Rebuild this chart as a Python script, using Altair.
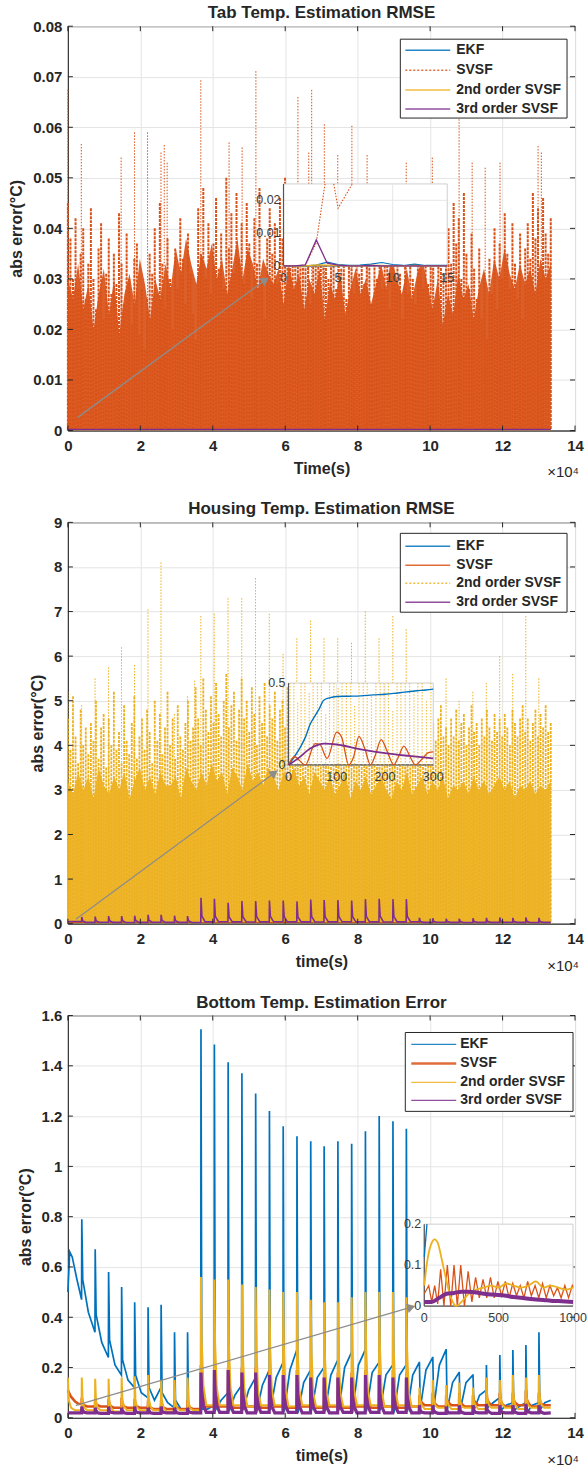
import math
import altair as alt
import pandas as pd

# ---------------------------------------------------------------- style
BLUE, ORANGE, YELLOW, PURPLE = "#0072BD", "#D95319", "#EDB120", "#7E2F8E"
INK = "#262626"
GRID = "#e4e4e4"
ARROW_C = "#8c8c8c"
FONT = "Liberation Sans"
W = 508
H1, H2, H3 = 405, 402, 403
T_END = 133300.0
X_TICKS = [0, 20000, 40000, 60000, 80000, 100000, 120000, 140000]

# ================================================================ DATA
# ---------- Panel 1: Tab temperature (SVSF dense error, milli-degC)
tab_fringe_mC = [
    45, 38, 30, 42, 28, 35, 40, 26, 33, 44,
    30, 24, 36, 41, 22, 31, 38, 27, 35, 29,
    43, 33, 25, 39, 30, 21, 34, 37, 19, 28,
    16, 26, 35, 31, 40, 27, 45, 33, 24, 38,
    30, 20, 36, 28, 42, 34, 25, 39, 31, 23,
    18, 44, 35, 48, 30, 41, 27, 37, 46, 32,
    39, 28, 50, 36, 43, 31, 47, 34, 41, 29,
    45, 37, 26, 42, 33, 48, 30, 22, 38, 44,
    35, 41, 29, 46, 38, 50, 33, 44, 39, 47,
    42, 36, 48, 40, 45, 25, 38, 47, 34, 43,
    37, 44, 30, 41, 35, 28, 43, 32, 39, 26,
    34, 40, 27, 36, 31, 43, 29, 38, 33, 25,
    37, 30, 42, 28, 35, 39, 24, 33, 29, 36,
    31, 22, 34, 27, 38, 30, 25, 36, 32, 28,
    35, 29, 41, 33, 26, 38, 44, 31, 36, 40,
    33, 45, 37, 42, 30, 47, 35, 28, 39, 32,
    26, 36, 22, 31, 18, 34, 27, 40, 24, 37,
    30, 43, 35, 28, 41, 33, 26, 39, 22, 36,
    41, 34, 47, 38, 44, 30, 46, 39, 35, 42]
tab_core_mC = [
    30, 26, 33, 24, 29, 20, 27, 32, 23, 30,
    19, 27, 31, 25, 34, 29, 22, 30, 26, 33,
    28, 36, 31, 38, 33, 29, 35, 32, 37, 30,
    34, 27, 32, 38, 30, 36, 33, 28, 34, 31,
    29, 32, 25, 33, 28, 31, 24, 30, 27, 32,
    22, 29, 26, 31, 23, 28, 32, 27, 30, 25,
    29, 33, 28, 35, 30, 27, 32, 26, 31, 34,
    29, 24, 30, 21, 27, 23, 31, 26, 29, 22,
    28, 32, 27, 34, 30, 36, 31, 28, 33, 29,
    32, 27, 34, 30, 33]
tab_spike_t4 = [0.0, 0.37, 1.47, 1.84, 2.20, 2.57, 2.66, 2.74, 3.67, 4.45,
                4.81, 5.19, 6.35, 6.65, 6.73, 7.08, 7.45, 7.84, 8.26, 9.34,
                10.06, 10.80, 11.16, 11.52, 11.93, 12.98, 13.07]
tab_spike_v = [0.0674, 0.0567, 0.054, 0.059, 0.059, 0.055, 0.0565, 0.053, 0.0693, 0.057,
               0.056, 0.0711, 0.066, 0.055, 0.0674, 0.0606, 0.0545, 0.0603, 0.0545, 0.053,
               0.054, 0.0616, 0.053, 0.052, 0.053, 0.0563, 0.055]
tab_flat_t = [0, 133300]
tab_ekf_flat = [0.0001, 0.0001]
tab_2nd_flat = [0.0001, 0.0001]
tab_3rd_flat = [0.0002, 0.0002]
# inset (0-15 s)
tab_in_t = [0, 1, 2, 3, 4, 5, 6, 7, 8, 9, 10, 11, 12, 13, 14, 15]
tab_in_ekf = [0, 0, 0, 0.0002, 0.0011, 0.0004, 0.0001, 0.0002, 0.0005, 0.0010, 0.0004, 0.0001, 0.0005, 0.0001, 0.0001, 0.0001]
tab_in_2nd = [0, 0, 0, 0.0003, 0.0002, 0.0001, 0, 0, 0.0001, 0.0001, 0, 0, 0.0001, 0, 0, 0]
tab_in_3rd = [0, 0, 0.0003, 0.0079, 0.0008, 0.0002, 0, 0, 0.0001, 0, 0, 0, 0, 0, 0, 0]
tab_in_svsf_seg = [0, 0, 0, 0, 0, 1, 1, 1]
tab_in_svsf_t = [0, 1, 2, 3, 3.8, 4.6, 5.0, 6.3]
tab_in_svsf_v = [0, 0, 0.0002, 0.007, 0.025, 0.025, 0.0176, 0.025]
tab_arrow_t = [2700, 54500]
tab_arrow_v = [0.0026, 0.0298]

# ---------- Panel 2: Housing temperature
house_fringe = [
    4.6, 3.9, 5.1, 4.2, 3.6, 4.8, 4.0, 4.4, 3.8, 4.5,
    4.1, 5.0, 3.7, 4.4, 4.7, 3.5, 4.6, 4.0, 5.2, 3.9,
    4.3, 3.6, 4.9, 4.1, 3.8, 4.5, 5.1, 3.7, 4.2, 4.6,
    3.9, 4.8, 4.3, 3.6, 5.0, 4.1, 4.7, 3.8, 4.4, 5.2,
    4.0, 4.6, 3.7, 4.9, 4.2, 3.9, 4.5, 5.0, 4.1, 4.4,
    5.3, 4.6, 4.0, 5.5, 4.8, 4.3, 5.1, 4.5, 5.4, 4.7,
    4.2, 5.0, 5.6, 4.4, 4.9, 5.2, 4.1, 4.8, 5.5, 4.6,
    5.0, 4.3, 5.3, 4.7, 4.0, 5.1, 4.5, 5.4, 4.2, 4.9,
    4.6, 5.2, 4.1, 4.8, 5.0, 4.4, 5.3, 4.0, 4.7, 5.1,
    4.3, 4.9, 5.2, 4.5, 4.1, 4.8, 4.4, 5.0, 4.2, 4.6,
    4.0, 4.7, 3.8, 4.5, 4.2, 4.9, 3.9, 4.4, 4.6, 4.1,
    4.8, 4.3, 3.9, 4.6, 4.0, 4.5, 4.9, 3.8, 4.3, 4.7,
    4.1, 4.5, 3.7, 4.4, 4.8, 4.0, 4.3, 4.6, 3.9, 4.5,
    4.2, 3.8, 4.6, 4.1, 4.4, 3.9, 4.7, 4.2, 4.0, 4.5,
    4.3, 4.8, 4.0, 4.5, 4.1, 4.6, 4.9, 4.2, 4.4, 4.0,
    4.6, 4.2, 4.8, 4.1, 4.5, 4.7, 4.0, 4.4, 4.9, 4.3,
    4.5, 4.0, 4.6, 4.2, 4.8, 4.4, 4.1, 4.7, 4.3, 4.6,
    4.2, 4.7, 4.4, 4.0, 4.8, 4.5, 4.2, 4.6, 4.9, 4.3,
    4.6, 4.1, 4.5, 4.8, 4.2, 4.7, 4.4, 4.9, 4.3, 4.5]
house_core = [
    3.2, 2.9, 3.4, 3.0, 3.3, 2.8, 3.5, 3.1, 2.9, 3.3,
    3.0, 3.4, 2.8, 3.2, 3.5, 3.0, 3.3, 2.9, 3.4, 3.1,
    3.1, 3.3, 2.8, 3.5, 3.2, 3.0, 3.4, 3.1, 3.6, 3.2,
    3.4, 2.9, 3.5, 3.3, 3.0, 3.6, 3.2, 3.4, 3.1, 3.5,
    3.3, 3.0, 3.4, 3.2, 3.5, 3.1, 3.3, 2.9, 3.4, 3.2,
    3.0, 3.3, 2.9, 3.1, 3.4, 2.8, 3.2, 3.0, 3.3, 2.9,
    3.1, 3.3, 3.0, 2.8, 3.2, 3.0, 3.4, 2.9, 3.1, 3.3,
    2.9, 3.2, 3.0, 3.3, 2.8, 3.1, 3.0, 3.2, 2.9, 3.3,
    3.0, 3.2, 2.9, 3.1, 3.3, 3.0, 3.2, 2.8, 3.1, 3.0,
    3.2, 2.9, 3.1, 3.0, 3.2]
house_spike_t4 = [0.0, 0.38, 0.75, 1.12, 1.48, 1.84, 2.21, 2.57, 2.94, 3.30,
                  3.50, 3.67, 4.04, 4.42, 4.80, 5.18, 5.56, 5.94, 6.32, 6.70,
                  7.07, 7.45, 7.83, 8.21, 8.59, 8.97, 9.34, 9.70, 10.07, 10.44,
                  10.80, 11.18, 11.55, 11.92, 12.28, 12.64, 13.00]
house_spike_v = [5.2, 4.9, 5.5, 5.75, 6.2, 5.8, 7.05, 8.1, 4.7, 5.1,
                 5.45, 6.9, 6.95, 7.3, 7.3, 7.75, 6.95, 6.05, 6.4, 6.8,
                 6.4, 6.4, 6.3, 7.0, 6.4, 6.9, 6.6, 5.0, 5.3, 5.5,
                 5.0, 5.2, 5.4, 6.0, 5.6, 6.9, 5.5]
house_flat_t = [0, 133300]
house_ekf_flat = [0.02, 0.02]
house_svsf_flat = [0.025, 0.025]
house_3rd_peak = [0.15, 0.16, 0.17, 0.17, 0.18, 0.20, 0.20, 0.18, 0.17,
                  0.58, 0.56, 0.47, 0.51, 0.51, 0.52, 0.52, 0.50, 0.54, 0.53, 0.53, 0.52, 0.55, 0.56, 0.55, 0.55,
                  0.13, 0.12, 0.11, 0.11, 0.12, 0.13, 0.14, 0.13, 0.14, 0.13]
house_3rd_drop = [0.06, 0.06, 0.065, 0.065, 0.07, 0.07, 0.07, 0.065, 0.065,
                  0.17, 0.16, 0.15, 0.16, 0.16, 0.16, 0.16, 0.15, 0.16, 0.16, 0.16, 0.16, 0.16, 0.17, 0.16, 0.16,
                  0.05, 0.05, 0.05, 0.05, 0.05, 0.055, 0.055, 0.05, 0.055, 0.05]
house_3rd_base = [0.03, 0.032, 0.03, 0.028, 0.03, 0.032, 0.03, 0.03, 0.028,
                  0.04, 0.042, 0.04, 0.038, 0.04, 0.042, 0.04, 0.04, 0.038, 0.04, 0.042, 0.04, 0.04, 0.038, 0.04, 0.042,
                  0.03, 0.032, 0.03, 0.028, 0.03, 0.03, 0.032, 0.03, 0.028, 0.03]
# inset (0-300 s)
h_in_ekf_t = [0, 12, 25, 35, 45, 55, 63, 73, 85, 100, 125, 150, 175, 200, 218, 240, 266, 285, 300]
h_in_ekf_v = [0.0, 0.05, 0.11, 0.17, 0.25, 0.30, 0.34, 0.395, 0.41, 0.418, 0.42, 0.422, 0.428, 0.432, 0.437, 0.445, 0.453, 0.458, 0.463]
h_in_svsf_t = [0, 12, 35, 55, 65, 80, 100, 110, 125, 135, 146, 158, 170, 180, 192, 205, 218, 228, 239, 252, 263, 275, 290, 300]
h_in_svsf_v = [0.0, 0.05, 0.0, 0.13, 0.125, 0.04, 0.2, 0.17, 0.0, 0.05, 0.175, 0.1, 0.0, 0.06, 0.155, 0.08, 0.0, 0.05, 0.115, 0.05, 0.0, 0.03, 0.075, 0.08]
h_in_3rd_t = [0, 20, 45, 75, 100, 150, 200, 250, 300]
h_in_3rd_v = [0.0, 0.04, 0.10, 0.13, 0.125, 0.095, 0.072, 0.055, 0.04]
h_in_2nd_t = [3, 11, 19, 26, 34, 43, 51, 60, 68, 77, 85, 94, 103, 111, 120, 129, 137, 146, 155, 163,
              172, 181, 190, 198, 207, 216, 225, 233, 242, 251, 260, 268, 277, 286, 295]
h_in_2nd_v = [0.5, 0.5, 0.38, 0.5, 0.5, 0.44, 0.5, 0.5, 0.5, 0.31, 0.5, 0.5, 0.47, 0.5, 0.5, 0.5, 0.36, 0.5, 0.5, 0.5,
              0.42, 0.5, 0.5, 0.5, 0.5, 0.33, 0.5, 0.5, 0.5, 0.5, 0.45, 0.5, 0.5, 0.39, 0.5]
house_arrow_t = [2200, 57000]
house_arrow_v = [0.10, 3.38]

# ---------- Panel 3: Bottom temperature (cycle based, times in 1e4 s)
cyc_t4 = [0.38, 0.75, 1.12, 1.48, 1.84, 2.21, 2.57, 2.94, 3.30,
          3.67, 4.04, 4.42, 4.80, 5.18, 5.56, 5.94, 6.32, 6.70, 7.07, 7.45, 7.83, 8.21, 8.59, 8.97, 9.34,
          9.70, 10.07, 10.44, 10.80, 11.18, 11.55, 11.92, 12.28, 12.64, 13.00]
ekf_start_t = [0, 500, 1200, 2500]
ekf_start_v = [0.50, 0.66, 0.64, 0.55]
ekf_pre = [0.47, 0.34, 0.24, 0.17, 0.12, 0.08, 0.12, 0.04, 0.03,
           0.02, 0.05, 0.10, 0.13, 0.16, 0.19, 0.22, 0.27, 0.19, 0.20, 0.23, 0.26, 0.27, 0.22, 0.21, 0.21,
           0.22, 0.24, 0.27, 0.18, 0.17, 0.11, 0.08, 0.06, 0.06, 0.06]
ekf_peak = [0.79, 0.67, 0.58, 0.52, 0.46, 0.44, 0.45, 0.34, 0.34,
            1.545, 1.485, 1.414, 1.37, 1.29, 1.22, 1.16, 1.12, 1.10, 1.08, 1.10, 1.09, 1.14, 1.20, 1.18, 1.15,
            0.22, 0.24, 0.27, 0.18, 0.17, 0.21, 0.25, 0.27, 0.29, 0.34]
ekf_post = [0.55, 0.41, 0.31, 0.23, 0.17, 0.12, 0.10, 0.07, 0.05,
            0.035, 0.03, 0.025, 0.03, 0.02, 0.03, 0.025, 0.02, 0.03, 0.025, 0.03, 0.02, 0.025, 0.03, 0.02, 0.025,
            0.04, 0.04, 0.03, 0.03, 0.03, 0.04, 0.03, 0.03, 0.02, 0.03]
ekf_mid = [0.42, 0.30, 0.21, 0.15, 0.10, 0.07, 0.06, 0.035, 0.025,
           0.035, 0.07, 0.09, 0.11, 0.13, 0.16, 0.19, 0.14, 0.16, 0.17, 0.20, 0.21, 0.18, 0.17, 0.17, 0.17,
           0.19, 0.21, 0.14, 0.14, 0.09, 0.06, 0.05, 0.045, 0.05, 0.06]
ekf_end = 0.07
yel_start_t = [0, 250, 900, 2000]
yel_start_v = [0.16, 0.07, 0.04, 0.03]
yel_peak = [0.16, 0.155, 0.155, 0.16, 0.165, 0.17, 0.15, 0.15, 0.16,
            0.56, 0.55, 0.55, 0.53, 0.52, 0.51, 0.50, 0.50, 0.47, 0.46, 0.46, 0.48, 0.50, 0.50, 0.50, 0.48,
            0.12, 0.15, 0.13, 0.14, 0.12, 0.16, 0.15, 0.17, 0.16, 0.17]
yel_drop = [0.07, 0.07, 0.065, 0.07, 0.07, 0.075, 0.07, 0.065, 0.07,
            0.30, 0.29, 0.29, 0.28, 0.28, 0.27, 0.27, 0.26, 0.26, 0.25, 0.26, 0.27, 0.27, 0.28, 0.27, 0.27,
            0.07, 0.08, 0.07, 0.07, 0.065, 0.08, 0.08, 0.085, 0.08, 0.085]
yel_tail = [0.04, 0.04, 0.04, 0.045, 0.04, 0.045, 0.04, 0.04, 0.04,
            0.13, 0.12, 0.12, 0.12, 0.11, 0.11, 0.11, 0.11, 0.10, 0.10, 0.10, 0.11, 0.11, 0.11, 0.11, 0.10,
            0.05, 0.05, 0.05, 0.045, 0.05, 0.05, 0.055, 0.05, 0.05, 0.055]
yel_base = [0.03, 0.03, 0.025, 0.03, 0.03, 0.03, 0.025, 0.03, 0.03,
            0.05, 0.05, 0.05, 0.045, 0.05, 0.05, 0.045, 0.05, 0.045, 0.05, 0.045, 0.05, 0.05, 0.045, 0.05, 0.045,
            0.035, 0.04, 0.035, 0.04, 0.035, 0.04, 0.04, 0.035, 0.04, 0.04]
yel_end = 0.04
svsf_start_t = [0, 800, 2000, 3000]
svsf_start_v = [0.11, 0.085, 0.065, 0.055]
svsf_peak = [0.08, 0.075, 0.075, 0.08, 0.075, 0.07, 0.07, 0.07, 0.07,
             0.21, 0.21, 0.20, 0.20, 0.20, 0.19, 0.19, 0.19, 0.18, 0.18, 0.18, 0.18, 0.19, 0.19, 0.19, 0.18,
             0.09, 0.10, 0.09, 0.10, 0.09, 0.11, 0.10, 0.10, 0.11, 0.10]
svsf_drop = [0.06, 0.055, 0.055, 0.055, 0.05, 0.05, 0.05, 0.05, 0.05,
             0.14, 0.14, 0.13, 0.13, 0.13, 0.13, 0.12, 0.12, 0.12, 0.12, 0.12, 0.12, 0.12, 0.12, 0.12, 0.12,
             0.07, 0.07, 0.07, 0.07, 0.07, 0.075, 0.07, 0.07, 0.075, 0.07]
svsf_tail = [0.05, 0.05, 0.045, 0.045, 0.045, 0.04, 0.04, 0.04, 0.04,
             0.08, 0.08, 0.08, 0.075, 0.075, 0.075, 0.07, 0.07, 0.07, 0.07, 0.07, 0.07, 0.07, 0.07, 0.07, 0.07,
             0.06, 0.055, 0.06, 0.055, 0.06, 0.06, 0.055, 0.06, 0.06, 0.055]
svsf_base = [0.045, 0.045, 0.04, 0.04, 0.04, 0.035, 0.035, 0.035, 0.035,
             0.045, 0.045, 0.04, 0.045, 0.04, 0.045, 0.04, 0.045, 0.04, 0.045, 0.04, 0.045, 0.04, 0.045, 0.04, 0.045,
             0.05, 0.045, 0.05, 0.045, 0.05, 0.05, 0.045, 0.05, 0.045, 0.05]
svsf_end = 0.05
p3_start_t = [0]
p3_start_v = [0.02]
p3_peak = [0.045, 0.04, 0.045, 0.04, 0.045, 0.04, 0.045, 0.04, 0.04,
           0.18, 0.19, 0.19, 0.18, 0.18, 0.17, 0.17, 0.17, 0.16, 0.16, 0.16, 0.16, 0.17, 0.17, 0.16, 0.16,
           0.05, 0.05, 0.045, 0.05, 0.05, 0.055, 0.05, 0.05, 0.055, 0.05]
p3_drop = [0.03, 0.03, 0.028, 0.03, 0.028, 0.03, 0.028, 0.03, 0.028,
           0.10, 0.10, 0.10, 0.095, 0.095, 0.09, 0.09, 0.09, 0.085, 0.085, 0.085, 0.085, 0.09, 0.09, 0.085, 0.085,
           0.03, 0.03, 0.028, 0.03, 0.03, 0.032, 0.03, 0.03, 0.032, 0.03]
p3_tail = [0.022, 0.02, 0.022, 0.02, 0.022, 0.02, 0.022, 0.02, 0.022,
           0.05, 0.05, 0.05, 0.048, 0.048, 0.046, 0.046, 0.046, 0.044, 0.044, 0.044, 0.044, 0.046, 0.046, 0.044, 0.044,
           0.022, 0.022, 0.02, 0.022, 0.022, 0.024, 0.022, 0.022, 0.024, 0.022]
p3_base = [0.02, 0.018, 0.02, 0.018, 0.02, 0.018, 0.02, 0.018, 0.02,
           0.022, 0.022, 0.022, 0.02, 0.022, 0.02, 0.022, 0.02, 0.022, 0.02, 0.022, 0.02, 0.022, 0.02, 0.022, 0.02,
           0.02, 0.018, 0.02, 0.018, 0.02, 0.018, 0.02, 0.018, 0.02, 0.018]
p3_end = 0.02
# inset (0-1000 s)
b_in_ekf_t = [0, 18]
b_in_ekf_v = [0.12, 0.2]
b_in_2nd_t = [0, 20, 45, 70, 90, 120, 150, 180, 215, 250, 300, 350, 400, 450, 500, 550, 600, 650, 700, 750,
              800, 850, 900, 950, 1000]
b_in_2nd_v = [0.05, 0.11, 0.15, 0.163, 0.155, 0.11, 0.06, 0.02, 0.0, 0.01, 0.03, 0.04, 0.045, 0.05, 0.045, 0.055,
              0.05, 0.045, 0.05, 0.06, 0.045, 0.05, 0.045, 0.04, 0.045]
b_in_svsf_t = [0, 30, 50, 70, 90, 110, 132, 155, 178, 200, 222, 245, 270, 295, 320, 345, 370, 395, 420, 445,
               470, 495, 520, 545, 570, 595, 620, 645, 670, 695, 720, 745, 770, 795, 820, 845, 870, 895, 920, 945,
               970, 995, 1000]
b_in_svsf_v = [0.03, 0.05, 0.01, 0.05, 0.005, 0.09, 0.0, 0.1, 0.0, 0.1, 0.0, 0.1, 0.0, 0.085, 0.01, 0.07, 0.02,
               0.065, 0.02, 0.07, 0.02, 0.06, 0.025, 0.06, 0.02, 0.055, 0.025, 0.05, 0.02, 0.06, 0.025, 0.05, 0.02,
               0.055, 0.02, 0.05, 0.025, 0.045, 0.02, 0.05, 0.02, 0.05, 0.045]
b_in_3rd_t = [0, 50, 100, 150, 200, 250, 300, 350, 400, 450, 500, 550, 600, 650, 700, 750, 800, 850, 900, 950, 1000]
b_in_3rd_v = [0.01, 0.01, 0.02, 0.03, 0.032, 0.035, 0.035, 0.033, 0.03, 0.028, 0.027, 0.025, 0.022, 0.02, 0.018,
              0.016, 0.015, 0.013, 0.012, 0.011, 0.01]
bot_arrow_t = [2200, 94800]
bot_arrow_v = [0.05, 0.44]

LABELS = ["EKF", "SVSF", "2nd order SVSF", "3rd order SVSF"]
COLORS = [BLUE, ORANGE, YELLOW, PURPLE]

# ================================================================ helpers
ONE = pd.DataFrame({"k": [0]})


def even(values, scale=1.0):
    n = len(values)
    return pd.DataFrame({"t": [i * T_END / (n - 1) for i in range(n)],
                         "v": [x * scale for x in values]})


def cycle_series(start_t, start_v, phases, end_v):
    ts, vs = list(start_t), list(start_v)
    n = len(cyc_t4)
    for k in range(n):
        t0 = cyc_t4[k] * 1e4
        t_next = cyc_t4[k + 1] * 1e4 if k + 1 < n else T_END
        for off, vals in phases:
            ts.append((t0 + t_next) / 2 if off == "mid" else t0 + off)
            vs.append(vals[k])
    ts.append(T_END)
    vs.append(end_v)
    return pd.DataFrame({"t": ts, "v": vs})


def main_x(title):
    return alt.X("t:Q", scale=alt.Scale(domain=[0, 140000], nice=False, zero=False),
                 axis=alt.Axis(values=X_TICKS, labelExpr="datum.value / 10000", title=title,
                               labelFlush=False, labelOverlap=False))


def main_y(ymax, ticks):
    return alt.Y("v:Q", scale=alt.Scale(domain=[0, ymax], nice=False, zero=False),
                 axis=alt.Axis(values=ticks, format="~g", title="abs error(°C)",
                               labelFlush=False, labelOverlap=False))


def in_x(dom, rng):
    return alt.X("t:Q", scale=alt.Scale(domain=dom, range=rng, nice=False, zero=False), axis=None)


def in_y(dom, rng):
    return alt.Y("v:Q", scale=alt.Scale(domain=dom, range=rng, nice=False, zero=False), axis=None)


def line(data, color, xe, ye, width=1.2, dash=None, opacity=1.0, interp="linear", detail=None):
    kw = dict(color=color, strokeWidth=width, opacity=opacity, interpolate=interp)
    if dash:
        kw["strokeDash"] = dash
    enc = dict(x=xe, y=ye)
    if detail:
        enc["detail"] = detail
    return alt.Chart(data).mark_line(**kw).encode(**enc)


def rules(data, color, xe, ye, width, dash=None, opacity=1.0):
    kw = dict(color=color, strokeWidth=width, opacity=opacity)
    if dash:
        kw["strokeDash"] = dash
    return alt.Chart(data).mark_rule(**kw).encode(x=xe, y=ye, y2=alt.datum(0))


def area(data, color, xe, ye, opacity=1.0):
    return alt.Chart(data).mark_area(color=color, opacity=opacity, interpolate="linear").encode(
        x=xe, y=ye, y2=alt.datum(0))


def box_ticks(xe, ye, yticks, H):
    """MATLAB-style inward tick marks on all four sides of the axes box."""
    xd = pd.DataFrame({"t": X_TICKS})
    yd = pd.DataFrame({"v": yticks})
    st = dict(color=INK, strokeWidth=1)
    return [
        alt.Chart(xd).mark_rule(**st).encode(x=xe, y=alt.value(H), y2=alt.value(H - 5)),
        alt.Chart(xd).mark_rule(**st).encode(x=xe, y=alt.value(0), y2=alt.value(5)),
        alt.Chart(yd).mark_rule(**st).encode(y=ye, x=alt.value(0), x2=alt.value(5)),
        alt.Chart(yd).mark_rule(**st).encode(y=ye, x=alt.value(W - 5), x2=alt.value(W)),
    ]


def arrow(ts, vs, xe, ye, H, ymax):
    dx = (ts[1] - ts[0]) * W / 140000.0
    dy = (vs[1] - vs[0]) * H / ymax
    ang = math.degrees(math.atan2(dx, dy))
    d = pd.DataFrame({"t": ts, "v": vs})
    ln = alt.Chart(d).mark_line(color=ARROW_C, strokeWidth=1.3).encode(x=xe, y=ye)
    hd = alt.Chart(d.iloc[[1]]).mark_point(shape="triangle-up", filled=True, size=90, color=ARROW_C,
                                          opacity=1, angle=ang).encode(x=xe, y=ye)
    return [ln, hd]


def inset_frame(xdom, ydom, xr, yr, xgrid, ygrid, xticks, yticks):
    xe, ye = in_x(xdom, xr), in_y(ydom, yr)
    bg = alt.Chart(pd.DataFrame({"t": [xdom[0]], "t2": [xdom[1]], "v": [ydom[0]], "v2": [ydom[1]]})).mark_rect(
        fill="white", stroke="#cfcfcf", strokeWidth=1).encode(x=xe, x2="t2:Q", y=ye, y2="v2:Q")
    layers = [bg]
    if xgrid:
        g = pd.DataFrame({"t": xgrid, "v": [ydom[0]] * len(xgrid), "v2": [ydom[1]] * len(xgrid)})
        layers.append(alt.Chart(g).mark_rule(color="#e6e6e6", strokeWidth=1).encode(x=xe, y=ye, y2="v2:Q"))
    if ygrid:
        g = pd.DataFrame({"v": ygrid, "t": [xdom[0]] * len(ygrid), "t2": [xdom[1]] * len(ygrid)})
        layers.append(alt.Chart(g).mark_rule(color="#e6e6e6", strokeWidth=1).encode(x=xe, x2="t2:Q", y=ye))
    ax = pd.DataFrame({"t": [xdom[0]], "t2": [xdom[1]], "v": [ydom[0]], "v2": [ydom[1]]})
    layers.append(alt.Chart(ax).mark_rule(color="#555555", strokeWidth=1.2).encode(x=xe, y=ye, y2="v2:Q"))
    layers.append(alt.Chart(ax).mark_rule(color="#555555", strokeWidth=1.2).encode(x=xe, x2="t2:Q", y=ye))
    xt = pd.DataFrame({"t": [a for a, _ in xticks], "v": [ydom[0]] * len(xticks), "lab": [b for _, b in xticks]})
    yt = pd.DataFrame({"v": [a for a, _ in yticks], "t": [xdom[0]] * len(yticks), "lab": [b for _, b in yticks]})
    tstyle = dict(font=FONT, fontSize=12.5, color="#3a3a3a", baseline="middle")
    labels = [
        alt.Chart(xt).mark_text(align="center", dy=12, **tstyle).encode(x=xe, y=ye, text="lab:N"),
        alt.Chart(yt).mark_text(align="right", dx=-3, **tstyle).encode(x=xe, y=ye, text="lab:N"),
    ]
    return layers, labels, xe, ye


def legend(x0, x1, y0, y1, rows_y, lx0, lx1, tx, dashes, widths):
    out = [alt.Chart(ONE).mark_rect(fill="white", stroke=INK, strokeWidth=1).encode(
        x=alt.value(x0), x2=alt.value(x1), y=alt.value(y0), y2=alt.value(y1))]
    for lab, col, yy, dash, wd in zip(LABELS, COLORS, rows_y, dashes, widths):
        kw = dict(color=col, strokeWidth=wd, opacity=0.85)
        if dash:
            kw["strokeDash"] = dash
        out.append(alt.Chart(ONE).mark_rule(**kw).encode(x=alt.value(lx0), x2=alt.value(lx1), y=alt.value(yy)))
        out.append(alt.Chart(ONE).mark_text(text=lab, align="left", baseline="middle", font=FONT, fontSize=14,
                                            fontWeight="bold", color=INK).encode(x=alt.value(tx), y=alt.value(yy)))
    return out


def exponent(H):
    return alt.Chart(ONE).mark_text(text="×10⁴", align="center", baseline="middle", font=FONT, fontSize=15,
                                    color=INK).encode(x=alt.value(W - 12), y=alt.value(H + 42))


def panel(main_layers, inset_layers, overlay, H, title):
    return alt.layer(alt.layer(*main_layers), alt.layer(*inset_layers), alt.layer(*overlay)).resolve_scale(
        x="independent", y="independent").properties(
        width=W, height=H,
        title=alt.TitleParams(title, font=FONT, fontSize=17, fontWeight="bold", color=INK, offset=-3))


# ================================================================ panel 1
Y1_TICKS = [0, 0.01, 0.02, 0.03, 0.04, 0.05, 0.06, 0.07, 0.08]
x1, y1 = main_x("Time(s)"), main_y(0.08, Y1_TICKS)
flat1 = lambda vals: pd.DataFrame({"t": tab_flat_t, "v": vals})
main1 = [
    area(even(tab_core_mC, 0.001), ORANGE, x1, y1, opacity=0.93),
    rules(even(tab_fringe_mC, 0.001), ORANGE, x1, y1, 2.0, dash=[3, 1]),
    rules(pd.DataFrame({"t": [a * 1e4 for a in tab_spike_t4], "v": tab_spike_v}), ORANGE, x1, y1, 1.0,
          dash=[1.5, 1.5]),
    line(flat1(tab_ekf_flat), BLUE, x1, y1),
    line(flat1(tab_2nd_flat), YELLOW, x1, y1),
    line(flat1(tab_3rd_flat), PURPLE, x1, y1, width=1.5),
] + arrow(tab_arrow_t, tab_arrow_v, x1, y1, H1, 0.08) + box_ticks(x1, y1, Y1_TICKS, H1)
fr, lb, ix, iy = inset_frame([0, 15], [0, 0.025], [216, 380], [240, 158], [5, 10], [0.01, 0.02],
                             [(0, "0"), (5, "5"), (10, "10"), (15, "15")],
                             [(0, "0"), (0.01, "0.01"), (0.02, "0.02")])
ins1 = fr + [
    line(pd.DataFrame({"t": tab_in_svsf_t, "v": tab_in_svsf_v, "seg": tab_in_svsf_seg}), ORANGE, ix, iy,
         width=1.1, dash=[1.5, 1.5], detail="seg:N"),
    line(pd.DataFrame({"t": tab_in_t, "v": tab_in_ekf}), BLUE, ix, iy, width=1.2),
    line(pd.DataFrame({"t": tab_in_t, "v": tab_in_2nd}), YELLOW, ix, iy, width=1.2),
    line(pd.DataFrame({"t": tab_in_t, "v": tab_in_3rd}), PURPLE, ix, iy, width=1.3),
] + lb
ov1 = legend(333, 500, 13, 92, [24, 44, 64, 83], 338, 383, 389,
             [None, [2, 2], None, None], [1.5, 1.5, 1.5, 1.5]) + [exponent(H1)]
p1 = panel(main1, ins1, ov1, H1, "Tab Temp. Estimation RMSE")

# ================================================================ panel 2
Y2_TICKS = [0, 1, 2, 3, 4, 5, 6, 7, 8, 9]
x2, y2 = main_x("time(s)"), main_y(9, Y2_TICKS)
house_3rd = cycle_series([0], [0.05],
                         [(-20, [0.05] + house_3rd_base[:-1]), (40, house_3rd_peak),
                          (300, house_3rd_drop), (1200, house_3rd_base)], 0.03)
main2 = [
    area(even(house_core), YELLOW, x2, y2, opacity=0.92),
    rules(even(house_fringe), YELLOW, x2, y2, 1.8, dash=[3, 1]),
    rules(pd.DataFrame({"t": [a * 1e4 for a in house_spike_t4], "v": house_spike_v}), YELLOW, x2, y2, 1.0,
          dash=[1.5, 1.5]),
    line(pd.DataFrame({"t": house_flat_t, "v": house_ekf_flat}), BLUE, x2, y2),
    line(pd.DataFrame({"t": house_flat_t, "v": house_svsf_flat}), ORANGE, x2, y2),
    line(house_3rd, PURPLE, x2, y2, width=1.6),
] + arrow(house_arrow_t, house_arrow_v, x2, y2, H2, 9) + box_ticks(x2, y2, Y2_TICKS, H2)
fr, lb, ix, iy = inset_frame([0, 300], [0, 0.5], [221, 366], [243, 161], [100, 200], [],
                             [(0, "0"), (100, "100"), (200, "200"), (300, "300")],
                             [(0, "0"), (0.5, "0.5")])
ins2 = fr + [
    rules(pd.DataFrame({"t": h_in_2nd_t, "v": h_in_2nd_v}), YELLOW, ix, iy, 1.2, dash=[1.5, 1.5], opacity=0.75),
    line(pd.DataFrame({"t": h_in_ekf_t, "v": h_in_ekf_v}), BLUE, ix, iy, width=1.4, interp="monotone"),
    line(pd.DataFrame({"t": h_in_svsf_t, "v": h_in_svsf_v}), ORANGE, ix, iy, width=1.3, interp="monotone"),
    line(pd.DataFrame({"t": h_in_3rd_t, "v": h_in_3rd_v}), PURPLE, ix, iy, width=1.8, interp="monotone"),
] + lb
ov2 = legend(333, 500, 11, 90, [24, 43, 61, 80], 338, 383, 389,
             [None, None, [2, 2], None], [1.5, 1.5, 1.5, 1.5]) + [exponent(H2)]
p2 = panel(main2, ins2, ov2, H2, "Housing Temp. Estimation RMSE")

# ================================================================ panel 3
Y3_TICKS = [0, 0.2, 0.4, 0.6, 0.8, 1, 1.2, 1.4, 1.6]
x3, y3 = main_x("time(s)"), main_y(1.6, Y3_TICKS)
ekf3 = cycle_series(ekf_start_t, ekf_start_v,
                    [(-20, ekf_pre), (40, ekf_peak), (300, ekf_post), ("mid", ekf_mid)], ekf_end)
svsf3 = cycle_series(svsf_start_t, svsf_start_v,
                     [(-20, [svsf_start_v[-1]] + svsf_base[:-1]), (40, svsf_peak), (250, svsf_drop),
                      (700, svsf_tail), (1500, svsf_base)], svsf_end)
yel3 = cycle_series(yel_start_t, yel_start_v,
                    [(-20, [yel_start_v[-1]] + yel_base[:-1]), (40, yel_peak), (250, yel_drop),
                     (700, yel_tail), (1500, yel_base)], yel_end)
pur3 = cycle_series(p3_start_t, p3_start_v,
                    [(-20, [p3_start_v[-1]] + p3_base[:-1]), (40, p3_peak), (250, p3_drop),
                     (700, p3_tail), (1500, p3_base)], p3_end)
main3 = [
    line(ekf3, BLUE, x3, y3, width=1.7),
    line(svsf3, ORANGE, x3, y3, width=2.6),
    line(yel3, YELLOW, x3, y3, width=2.0),
    line(pur3, PURPLE, x3, y3, width=3.2),
] + arrow(bot_arrow_t, bot_arrow_v, x3, y3, H3, 1.6) + box_ticks(x3, y3, Y3_TICKS, H3)
fr, lb, ix, iy = inset_frame([0, 1000], [0, 0.2], [357, 506], [291, 209], [500], [0.1],
                             [(0, "0"), (500, "500"), (1000, "1000")],
                             [(0, "0"), (0.1, "0.1"), (0.2, "0.2")])
ins3 = fr + [
    line(pd.DataFrame({"t": b_in_ekf_t, "v": b_in_ekf_v}), BLUE, ix, iy, width=1.3),
    line(pd.DataFrame({"t": b_in_svsf_t, "v": b_in_svsf_v}), ORANGE, ix, iy, width=1.3),
    line(pd.DataFrame({"t": b_in_2nd_t, "v": b_in_2nd_v}), YELLOW, ix, iy, width=1.8, interp="monotone"),
    line(pd.DataFrame({"t": b_in_3rd_t, "v": b_in_3rd_v}), PURPLE, ix, iy, width=4.0, interp="monotone"),
] + lb
ov3 = legend(338, 506, 17, 96, [29, 48, 67, 85], 344, 389, 393,
             [None, None, None, None], [1.3, 2.5, 1.3, 1.3]) + [exponent(H3)]
p3 = panel(main3, ins3, ov3, H3, "Bottom Temp. Estimation Error")

# ================================================================ compose
chart = alt.vconcat(p1, p2, p3, spacing=18).properties(
    padding={"left": 8, "right": 0, "top": 2, "bottom": 0}, background="white"
).configure_view(stroke=INK, strokeWidth=1).configure_axis(
    labelFont=FONT, titleFont=FONT, labelFontSize=15, titleFontSize=16,
    labelFontWeight="bold", titleFontWeight="bold", labelColor=INK, titleColor=INK,
    gridColor=GRID, gridWidth=1, domainColor=INK, ticks=False
).configure_axisX(labelPadding=8, titlePadding=7).configure_axisY(
    labelPadding=6, titlePadding=8
).configure_title(anchor="middle")

chart.save("out.html", embed_options={"renderer": "svg", "actions": False})
